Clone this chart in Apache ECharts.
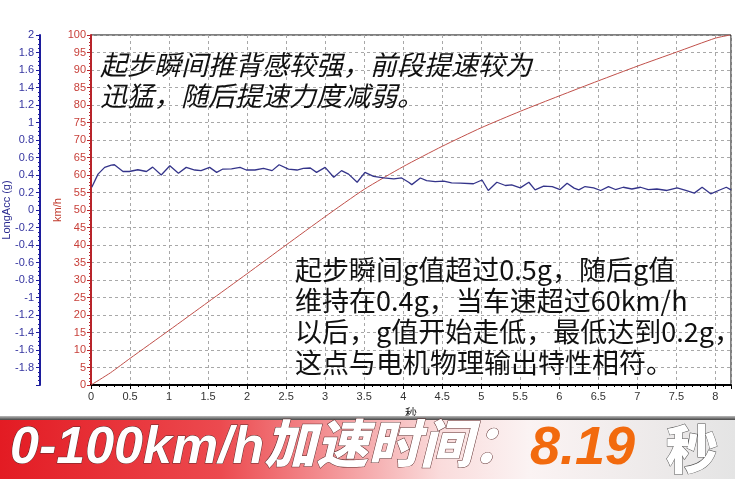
<!DOCTYPE html>
<html><head><meta charset="utf-8">
<script src="https://cdn.jsdelivr.net/npm/echarts@6/dist/echarts.min.js"></script>
<style>html,body{margin:0;padding:0;background:#fff}#c{width:735px;height:479px}</style>
</head><body><div id="c"></div>
<script>
// Longitudinal acceleration (g) vs time (s)
const accTime = [0.01,0.09,0.175,0.26,0.30,0.41,0.49,0.60,0.71,0.79,0.90,1.01,1.12,1.22,1.33,1.41,1.52,1.61,1.69,1.80,1.91,1.99,2.10,2.21,2.32,2.41,2.53,2.64,2.72,2.81,2.89,3.00,3.11,3.21,3.30,3.41,3.51,3.62,3.75,3.88,3.98,4.07,4.11,4.22,4.30,4.41,4.52,4.62,4.73,4.90,5.01,5.09,5.20,5.31,5.39,5.50,5.61,5.69,5.80,5.91,6.01,6.10,6.19,6.25,6.33,6.44,6.53,6.63,6.72,6.82,6.93,7.04,7.14,7.25,7.38,7.51,7.62,7.73,7.83,7.94,8.04,8.14,8.20];
const accG    = [0.26,0.41,0.487,0.513,0.517,0.44,0.44,0.46,0.44,0.49,0.40,0.505,0.42,0.487,0.457,0.45,0.487,0.43,0.468,0.47,0.487,0.457,0.457,0.475,0.45,0.517,0.468,0.457,0.475,0.48,0.43,0.487,0.374,0.45,0.41,0.317,0.43,0.385,0.366,0.355,0.366,0.317,0.29,0.366,0.336,0.325,0.33,0.31,0.306,0.30,0.343,0.223,0.317,0.28,0.287,0.253,0.317,0.23,0.272,0.268,0.234,0.306,0.25,0.23,0.268,0.253,0.223,0.268,0.234,0.26,0.24,0.26,0.234,0.24,0.223,0.253,0.223,0.193,0.26,0.185,0.223,0.26,0.23];
// Vehicle speed (km/h) vs time (s)
const speedTime = [0,0.25,0.5,1,1.5,2,2.5,3,3.5,4,4.5,5,5.5,6,6.5,7,7.5,8,8.19];
const speedKmh  = [0,3.5,7.6,15.6,23.7,31.8,40,48.1,55.9,62.4,68.2,73.5,78.2,82.6,86.9,91.1,95.1,99.1,100];
// Axis settings
const xRange = [0, 8.2];
const speedRange = [0, 100];
const accRange = [-2, 2];
const axisNames = { time: '秒', speed: 'km/h', acc: 'LongAcc (g)' };
const noteTop = ['起步瞬间推背感较强，前段提速较为', '迅猛，随后提速力度减弱。'];
const noteMid = ['起步瞬间g值超过0.5g，随后g值', '维持在0.4g，当车速超过60km/h', '以后，g值开始走低，最低达到0.2g，', '这点与电机物理输出特性相符。'];
const bannerMain = '0-100km/h加速时间：';
const bannerValue = '8.19';
const bannerUnit = '秒';

const fmt = v => { const r = Math.round(v * 10) / 10; return Math.abs(r) < 1e-9 ? '0' : String(r); };
const chart = echarts.init(document.getElementById('c'));
const cjk = '"Noto Sans CJK SC", "Noto Sans", sans-serif';
const gridDash = { show: true, lineStyle: { color: '#a8a8a8', type: [3, 3], width: 1 } };

chart.setOption({
  animation: false,
  backgroundColor: '#fff',
  grid: { left: 91, right: 4, top: 35, bottom: 94, containLabel: false, outerBoundsMode: 'none', show: true, borderColor: '#000', borderWidth: 1, backgroundColor: 'transparent' },
  xAxis: {
    type: 'value', min: xRange[0], max: xRange[1], interval: 0.5,
    name: axisNames.time, nameLocation: 'middle', nameGap: 22, nameMoveOverlap: false,
    nameTextStyle: { color: '#222', fontSize: 12, fontFamily: cjk },
    axisLine: { show: true, lineStyle: { color: '#000', width: 2 } },
    axisTick: { show: true, length: 4, lineStyle: { color: '#000' } },
    minorTick: { show: true, splitNumber: 5, length: 2, lineStyle: { color: '#000' } },
    axisLabel: { color: '#333', fontSize: 11, margin: 6, fontFamily: 'Liberation Sans, Arial', showMaxLabel: false, formatter: fmt },
    splitLine: gridDash
  },
  yAxis: [
    {
      type: 'value', position: 'left', min: speedRange[0], max: speedRange[1], interval: 5,
      name: axisNames.speed, nameLocation: 'middle', nameGap: 28, nameRotate: 90, nameMoveOverlap: false,
      nameTextStyle: { color: '#c0392b', fontSize: 11, fontFamily: 'Liberation Sans, Arial' },
      axisLine: { show: true, lineStyle: { color: '#b8242a', width: 2 } },
      axisTick: { show: true, length: 4, lineStyle: { color: '#b8242a' } },
      minorTick: { show: true, splitNumber: 5, length: 2, lineStyle: { color: '#b8242a' } },
      axisLabel: { color: '#c8403a', fontSize: 11, margin: 5, fontFamily: 'Liberation Sans, Arial' },
      splitLine: gridDash
    },
    {
      type: 'value', position: 'left', offset: 51, min: accRange[0], max: accRange[1], interval: 0.2,
      name: axisNames.acc, nameLocation: 'middle', nameGap: 28, nameRotate: 90, nameMoveOverlap: false,
      nameTextStyle: { color: '#2a2a90', fontSize: 11, fontFamily: 'Liberation Sans, Arial' },
      axisLine: { show: true, lineStyle: { color: '#1c1c9c', width: 2 } },
      axisTick: { show: true, length: 4, lineStyle: { color: '#1c1c9c' } },
      minorTick: { show: true, splitNumber: 4, length: 2, lineStyle: { color: '#1c1c9c' } },
      axisLabel: { color: '#3434a0', fontSize: 11, margin: 6, showMinLabel: false, fontFamily: 'Liberation Sans, Arial', formatter: fmt },
      splitLine: { show: false }
    }
  ],
  series: [
    {
      type: 'line', yAxisIndex: 0, symbol: 'none', smooth: 0.2,
      lineStyle: { color: '#c0504a', width: 1 },
      data: speedTime.map((t, i) => [t, speedKmh[i]]), z: 3
    },
    {
      type: 'line', yAxisIndex: 1, symbol: 'none',
      lineStyle: { color: '#34348a', width: 1.3 },
      data: accTime.map((t, i) => [t, accG[i]]), z: 4
    }
  ],
  graphic: [
    { type: 'text', left: 100, top: 49, z: 10, style: { text: noteTop.join('\n'), font: 'italic 27px ' + cjk, lineHeight: 31, fill: '#111', shadowBlur: 6, shadowColor: '#fff6c8' } },
    { type: 'text', left: 295, top: 254, z: 10, style: { text: noteMid.join('\n'), font: '27px ' + cjk, lineHeight: 31, fill: '#111', shadowBlur: 6, shadowColor: '#fff6c8' } },
    { type: 'rect', shape: { x: 0, y: 416, width: 735, height: 4 }, z: 10,
      style: { fill: new echarts.graphic.LinearGradient(0, 0, 0, 1, [{ offset: 0, color: '#bbb' }, { offset: 1, color: '#444' }]) } },
    { type: 'rect', shape: { x: 0, y: 420, width: 735, height: 59 }, z: 10,
      style: { fill: new echarts.graphic.LinearGradient(0, 0, 1, 0, [
        { offset: 0, color: '#e31b23' }, { offset: 0.3, color: '#ec4a4f' }, { offset: 0.6, color: '#fadcdc' },
        { offset: 0.72, color: '#fbf3f3' }, { offset: 1, color: '#e4e4e4' }]) } },
    { type: 'text', x: 10, y: 449, z: 11, style: { text: bannerMain, textVerticalAlign: 'middle', font: 'italic 900 52px "Liberation Sans", ' + cjk, fill: '#fff', stroke: '#5a2a2a', lineWidth: 1, shadowBlur: 2, shadowColor: 'rgba(0,0,0,0.6)', shadowOffsetX: 2, shadowOffsetY: 2 } },
    { type: 'text', x: 530, y: 449, z: 11, style: { text: bannerValue, textVerticalAlign: 'middle', font: 'italic bold 54px "Liberation Sans", Arial', fill: '#f26a0e', shadowBlur: 2, shadowColor: 'rgba(0,0,0,0.35)', shadowOffsetX: 1, shadowOffsetY: 1 } },
    { type: 'text', x: 666, y: 449, z: 11, style: { text: bannerUnit, textVerticalAlign: 'middle', font: '900 52px ' + cjk, fill: '#fff', stroke: '#555', lineWidth: 1, shadowBlur: 2, shadowColor: 'rgba(0,0,0,0.6)', shadowOffsetX: 2, shadowOffsetY: 2 } }
  ]
});
</script></body></html>
